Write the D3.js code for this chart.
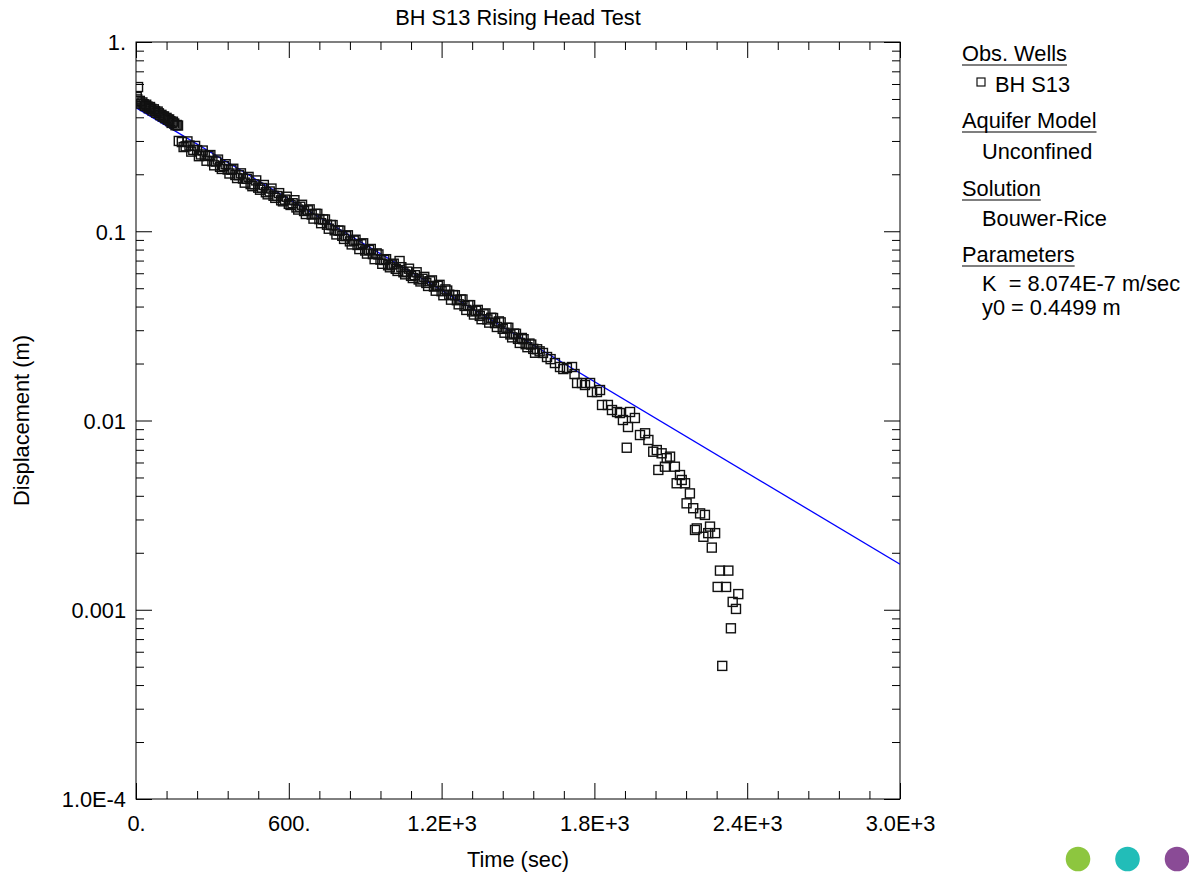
<!DOCTYPE html>
<html><head><meta charset="utf-8">
<script src="https://cdn.jsdelivr.net/npm/d3@7"></script>
<style>
body{margin:0;background:#fff;}
svg text{font-family:"Liberation Sans",Arial,Helvetica,sans-serif;fill:#000;}
</style></head><body>
<svg id="chart" width="1189" height="872"></svg>
<script>
// ---- data ----
const obsTime = [3,5,8,10,15,20,25,30,35,40,45,50,55,60,65,70,75,80,85,90,95,100,105,110,115,120,125,130,135,140,145,150,155,160,165,168,
  180,195,210,225,240,255,270,285,300,315,330,345,360,375,390,405,420,435,450,465,480,495,510,525,540,555,570,585,600,615,630,645,660,675,690,705,720,735,750,765,780,795,810,825,840,855,870,885,900,915,930,945,960,975,990,1005,1020,1035,1050,1065,1080,1095,1110,1125,1140,1155,1170,1185,1200,1215,1230,1245,1260,1275,1290,1305,1320,1335,1350,1365,1380,1395,1410,1425,1440,1455,1470,1485,1500,1515,1530,1545,1560,1575,
  187,202,217,232,247,262,277,292,307,322,337,352,367,382,397,412,427,442,457,472,487,502,517,532,547,562,577,592,607,622,637,652,667,682,697,712,727,742,757,772,787,802,817,832,847,862,877,892,907,922,937,952,967,982,997,1012,1027,1042,1057,1072,1087,1102,1117,1132,1147,1162,1177,1192,1207,1222,1237,1252,1267,1282,1297,1312,1327,1342,1357,1372,1387,1402,1417,1432,1447,1462,1477,1492,1507,1522,1537,1552,1567,1585,1628,1678,1722,
  1598,1614,1645,1665,1692,1712,1732,1751,1763,1783,1791,1810,1822,1830,1853,1869,1889,1900,1912,1927,1932,1940,1959,1979,1999,2012,2031,2045,2051,2064,2077,2084,2097,2116,2123,2136,2143,2156,2162,2175,2188,2195,2202,2215,2228,2234,2247,2254,2261,2274,2284,2293,2302,2317,2326,2336,2343,2356,2365];
const obsDisp = [0.512,0.4975,0.578,0.4868,0.4884,0.4722,0.4794,0.4690,0.4592,0.4663,0.4561,0.4466,0.4534,0.4437,0.4344,0.4410,0.4315,0.4225,0.4290,0.4198,0.4110,0.4120,0.4034,0.4044,0.3960,0.3971,0.3888,0.3898,0.3816,0.3736,0.3791,0.3711,0.3634,0.3644,0.3620,0.3000,
  0.2960,0.2810,0.2837,0.2691,0.2683,0.2545,0.2506,0.2498,0.2342,0.2336,0.2189,0.2210,0.2121,0.2115,0.1983,0.1977,0.1898,0.1892,0.1774,0.1770,0.1699,0.1694,0.1607,0.1623,0.1540,0.1535,0.1457,0.1469,0.1395,0.1407,0.1336,0.1348,0.1279,0.1290,0.1225,0.1236,0.1159,0.1155,0.1083,0.1079,0.1012,0.1008,0.0946,0.0942,0.0884,0.0892,0.0846,0.0854,0.0791,0.0797,0.0757,0.0764,0.0708,0.0705,0.0661,0.0667,0.0633,0.0696,0.0607,0.0612,0.0581,0.0586,0.0556,0.0561,0.0533,0.0544,0.0510,0.0515,0.0482,0.0493,0.0462,0.0460,0.0432,0.0436,0.0403,0.0407,0.0377,0.0380,0.0357,0.0364,0.0342,0.0349,0.0327,0.0334,0.0305,0.0309,0.0285,0.0288,0.0270,0.0273,0.0253,0.0255,0.0239,0.0238,
  0.2785,0.2984,0.2635,0.2823,0.2492,0.2670,0.2358,0.2527,0.2230,0.2391,0.2134,0.2261,0.2019,0.2139,0.1910,0.2023,0.1806,0.1937,0.1730,0.1856,0.1657,0.1756,0.1567,0.1681,0.1501,0.1590,0.1439,0.1522,0.1377,0.1459,0.1302,0.1380,0.1233,0.1305,0.1166,0.1235,0.1103,0.1154,0.1031,0.1078,0.0962,0.1008,0.0911,0.0952,0.0852,0.0902,0.0805,0.0864,0.0762,0.0806,0.0712,0.0754,0.0673,0.0712,0.0645,0.0674,0.0617,0.0646,0.0592,0.0634,0.0566,0.0607,0.0543,0.0574,0.0514,0.0550,0.0485,0.0521,0.0459,0.0486,0.0435,0.0459,0.0411,0.0436,0.0384,0.0407,0.0363,0.0384,0.0343,0.0368,0.0329,0.0348,0.0312,0.0330,0.0291,0.0309,0.0275,0.0287,0.0257,0.0269,0.0244,0.0252,0.0228,0.0232,0.0211,0.0187,0.0176,
  0.02274,0.02165,0.02012,0.01917,0.01894,0.01917,0.01578,0.01578,0.01540,0.01578,0.01414,0.01414,0.01449,0.01208,0.01208,0.01136,0.01109,0.01095,0.01006,0.00718,0.00924,0.01109,0.01031,0.00838,0.00856,0.00789,0.00684,0.00698,0.00548,0.00671,0.00570,0.00632,0.00644,0.00570,0.00466,0.00515,0.00485,0.00466,0.00365,0.00412,0.00344,0.00264,0.00269,0.00323,0.00243,0.00317,0.00254,0.00275,0.00213,0.00254,0.00132,0.00161,0.000505,0.00132,0.00161,0.000798,0.00110,0.00101,0.00121];
const fitTime = [0, 3000];
const fitDisp = [0.4499, 0.00174];
const xMajorTicks = [0, 600, 1200, 1800, 2400, 3000];
const xTickLabels = ["0.", "600.", "1.2E+3", "1.8E+3", "2.4E+3", "3.0E+3"];
const xMinorStep = 120;
const yMajorTicks = [1e-4, 1e-3, 1e-2, 1e-1, 1];
const yTickLabels = ["1.0E-4", "0.001", "0.01", "0.1", "1."];
const titleText = "BH S13 Rising Head Test";
const xAxisTitle = "Time (sec)";
const yAxisTitle = "Displacement (m)";
const legendHeads = ["Obs. Wells", "Aquifer Model", "Solution", "Parameters"];
const legendItems = [["BH S13"], ["Unconfined"], ["Bouwer-Rice"], ["K  = 8.074E-7 m/sec", "y0 = 0.4499 m"]];
const cornerDotColors = ["#8dc63f", "#22bdb8", "#8a4b96"];

// ---- layout ----
const FS = 21.8;
const L = 136, R = 900, T = 42, B = 799;
const svg = d3.select("#chart");
const x = d3.scaleLinear().domain([0, 3000]).range([L, R]);
const y = d3.scaleLog().domain([1e-4, 1]).range([B, T]);

const xMinor = d3.range(0, 3000 + 1, xMinorStep).filter(v => !xMajorTicks.includes(v));
const yMinor = [];
for (let k = 0; k < yMajorTicks.length - 1; k++) for (let m = 2; m <= 9; m++) yMinor.push(yMajorTicks[k] * m);

function styleAxis(g) {
  g.selectAll("path.domain").remove();
  g.selectAll(".tick line").attr("stroke", "#000").attr("stroke-width", 1);
  g.selectAll("text").attr("font-size", FS).attr("fill", "#000");
}
// bottom
svg.append("g").attr("transform", `translate(0,${B})`)
  .call(d3.axisBottom(x).tickValues(xMajorTicks).tickSizeInner(-16).tickSizeOuter(0).tickPadding(17)
    .tickFormat((d, i) => xTickLabels[i])).call(styleAxis);
svg.append("g").attr("transform", `translate(0,${B})`)
  .call(d3.axisBottom(x).tickValues(xMinor).tickSizeInner(-8).tickSizeOuter(0).tickFormat("")).call(styleAxis);
// top
svg.append("g").attr("transform", `translate(0,${T})`)
  .call(d3.axisTop(x).tickValues(xMajorTicks).tickSizeInner(-16).tickSizeOuter(0).tickFormat("")).call(styleAxis);
svg.append("g").attr("transform", `translate(0,${T})`)
  .call(d3.axisTop(x).tickValues(xMinor).tickSizeInner(-8).tickSizeOuter(0).tickFormat("")).call(styleAxis);
// left
svg.append("g").attr("transform", `translate(${L},0)`)
  .call(d3.axisLeft(y).tickValues(yMajorTicks).tickSizeInner(-16).tickSizeOuter(0).tickPadding(10)
    .tickFormat((d, i) => yTickLabels[i])).call(styleAxis)
  .selectAll("text").attr("dy", "0.36em");
svg.append("g").attr("transform", `translate(${L},0)`)
  .call(d3.axisLeft(y).tickValues(yMinor).tickSizeInner(-8).tickSizeOuter(0).tickFormat("")).call(styleAxis);
// right
svg.append("g").attr("transform", `translate(${R},0)`)
  .call(d3.axisRight(y).tickValues(yMajorTicks).tickSizeInner(-16).tickSizeOuter(0).tickFormat("")).call(styleAxis);
svg.append("g").attr("transform", `translate(${R},0)`)
  .call(d3.axisRight(y).tickValues(yMinor).tickSizeInner(-8).tickSizeOuter(0).tickFormat("")).call(styleAxis);

// frame
svg.append("rect").attr("x", L).attr("y", T).attr("width", R - L).attr("height", B - T)
  .attr("fill", "none").attr("stroke", "#000").attr("stroke-width", 1);

// clip
svg.append("clipPath").attr("id", "plotclip").append("rect")
  .attr("x", L).attr("y", T).attr("width", R - L).attr("height", B - T);
const plot = svg.append("g").attr("clip-path", "url(#plotclip)");

// fitted line
const fitData = fitTime.map((t, i) => [t, fitDisp[i]]);
plot.append("path").datum(fitData)
  .attr("d", d3.line().x(d => x(d[0])).y(d => y(d[1])))
  .attr("fill", "none").attr("stroke", "#0000ff").attr("stroke-width", 1.3);

// observations
const S = 9;
const obs = obsTime.map((t, i) => [t, obsDisp[i]]);
plot.append("g").selectAll("rect").data(obs).join("rect")
  .attr("x", d => x(d[0]) - S / 2).attr("y", d => y(d[1]) - S / 2)
  .attr("width", S).attr("height", S)
  .attr("fill", "none").attr("stroke", "#111").attr("stroke-width", 1.4);

// titles
svg.append("text").attr("x", (L + R) / 2).attr("y", 25).attr("text-anchor", "middle")
  .attr("font-size", FS).text(titleText);
svg.append("text").attr("x", (L + R) / 2).attr("y", 867).attr("text-anchor", "middle")
  .attr("font-size", FS).text(xAxisTitle);
svg.append("text").attr("transform", `translate(29,${(T + B) / 2}) rotate(-90)`).attr("text-anchor", "middle")
  .attr("font-size", FS).text(yAxisTitle);

// legend
const LX = 962, IX = 982;
const headY = [61, 128, 196, 262];
const itemY = [[92], [159], [226], [291, 315]];
legendHeads.forEach((h, i) => {
  const t = svg.append("text").attr("x", LX).attr("y", headY[i]).attr("font-size", FS).text(h);
  const w = t.node().getComputedTextLength();
  svg.append("line").attr("x1", LX).attr("x2", LX + w).attr("y1", headY[i] + 4).attr("y2", headY[i] + 4)
    .attr("stroke", "#000").attr("stroke-width", 1.2);
  legendItems[i].forEach((s, j) => {
    if (i === 0) {
      svg.append("rect").attr("x", 977).attr("y", itemY[i][j] - 14).attr("width", 8).attr("height", 8)
        .attr("fill", "none").attr("stroke", "#111").attr("stroke-width", 1.2);
      svg.append("text").attr("x", 995).attr("y", itemY[i][j]).attr("font-size", FS).text(s);
    } else {
      svg.append("text").attr("x", IX).attr("y", itemY[i][j]).attr("font-size", FS)
        .style("white-space", "pre").text(s);
    }
  });
});

// corner dots
svg.append("g").selectAll("circle").data(cornerDotColors).join("circle")
  .attr("cx", (d, i) => 1078 + i * 49.5).attr("cy", 859).attr("r", 12.3).attr("fill", d => d);
</script>
</body></html>
